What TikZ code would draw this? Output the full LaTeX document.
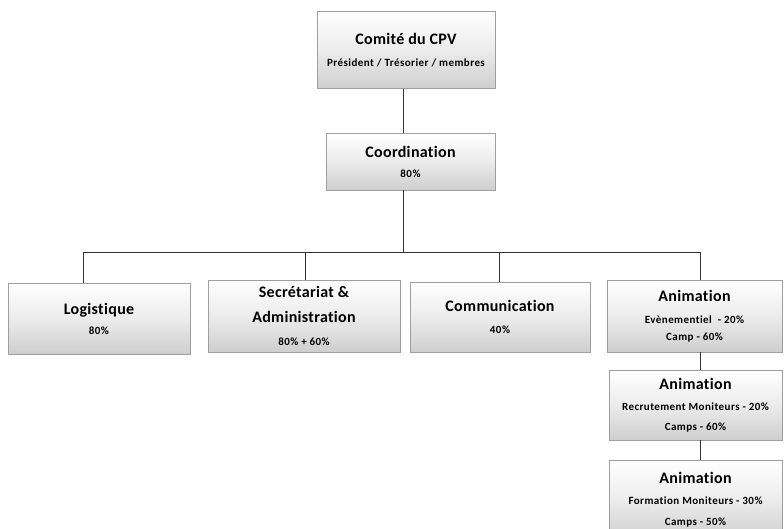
\documentclass[tikz,border=0pt]{standalone}
\usepackage{fontspec}
\setmainfont{Carlito}[Ligatures={NoCommon},LetterSpace=2]
\newfontfamily\subfont{Carlito}[Ligatures={NoCommon},LetterSpace=4]
\usetikzlibrary{shadows}
\newcommand{\subline}[1]{{\subfont\bfseries\fontsize{11}{13}\selectfont #1}}
\begin{document}
\begin{tikzpicture}[x=1pt,y=-1pt,
  orgbox/.style={draw=gray!75, line width=0.6pt, rectangle,
    top color=white, bottom color=gray!38, middle color=white!85!gray,
    drop shadow={shadow xshift=1pt, shadow yshift=-1pt, fill=gray!70, opacity=0.8},
    align=center, inner sep=0pt, font=\bfseries\fontsize{16}{18}\selectfont},
  link/.style={draw=black!80, line width=0.9pt}]
  \useasboundingbox (0,0) rectangle (784,529);

  % committee and coordination
  \node[orgbox, minimum width=178, minimum height=77] (comite) at (406,50)
    {Comité du CPV\\[4pt]\subline{Président / Trésorier / membres}};
  \node[orgbox, minimum width=169, minimum height=57] (coord) at (410.5,161.5)
    {Coordination\\[2pt]\subline{80\%}};

  % departments
  \node[orgbox, minimum width=182, minimum height=71] (logi) at (99,318.5)
    {Logistique\\[2pt]\subline{80\%}};
  \node[orgbox, minimum width=192, minimum height=72] (secr) at (304,316)
    {Secrétariat \&\\[7pt]Administration\\[5pt]\subline{80\% + 60\%}};
  \node[orgbox, minimum width=180, minimum height=70] (comm) at (500,317)
    {Communication\\[4pt]\subline{40\%}};
  \node[orgbox, minimum width=175, minimum height=72] (anim) at (694.5,316)
    {Animation\\[4pt]\subline{Evènementiel\ \ - 20\%}\\[-1pt]\subline{Camp - 60\%}};
  \node[orgbox, minimum width=173, minimum height=70] (animb) at (695.5,405)
    {Animation\\[3pt]\subline{Recrutement Moniteurs - 20\%}\\[2pt]\subline{Camps - 60\%}};
  \node[orgbox, minimum width=173, minimum height=80] (animc) at (695.5,500)
    {Animation\\[3pt]\subline{Formation Moniteurs - 30\%}\\[3pt]\subline{Camps - 50\%}};

  % bus line joining the departments
  \coordinate (busC) at (403,252);
  \coordinate (busL) at (83,252);
  \coordinate (busS) at (305,252);
  \coordinate (busM) at (499,252);
  \coordinate (busR) at (700,252);

  \draw[link] (busC |- comite.south) -- (busC |- coord.north);
  \draw[link] (busC |- coord.south) -- (busC);
  \draw[link] (busL) -- (busR);
  \draw[link] (busL) -- (busL |- logi.north);
  \draw[link] (busS) -- (busS |- secr.north);
  \draw[link] (busM) -- (busM |- comm.north);
  \draw[link] (busR) -- (busR |- anim.north);
  \draw[link] (busR |- anim.south) -- (busR |- animb.north);
  \draw[link] (busR |- animb.south) -- (busR |- animc.north);
\end{tikzpicture}
\end{document}
